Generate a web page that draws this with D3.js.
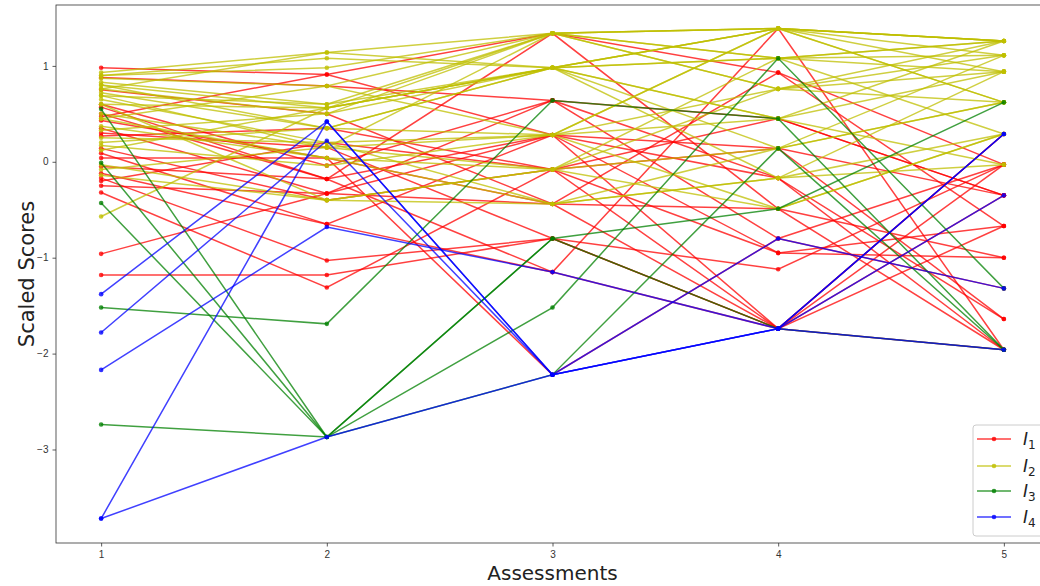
<!DOCTYPE html>
<html>
<head>
<meta charset="utf-8">
<script src="https://cdn.jsdelivr.net/npm/d3@7"></script>
<style>
  body { margin: 0; background: #fff; }
  svg { display: block; font-family: "DejaVu Sans", sans-serif; }
</style>
</head>
<body>
<svg id="chart" width="1040" height="586"></svg>
<script>
// assessments on the x axis
const assessments = [1, 2, 3, 4, 5];
const xTicks = [1, 2, 3, 4, 5];
const yTicks = [-3, -2, -1, 0, 1];

// I1 (red) trajectories
const groupI1 = [
  [0.98, 0.91, 1.34, 0.93, -0.67],
  [0.88, 0.79, 0.64, 0.45, -0.35],
  [0.57, -0.18, 1.34, -0.49, -1.0],
  [0.47, 0.91, 0.28, -1.74, 0.29],
  [0.43, 0.04, -2.22, -0.8, -0.03],
  [0.35, -0.33, 0.64, -0.17, -1.64],
  [0.27, 0.35, -0.08, 0.14, -0.35],
  [0.09, -0.65, -1.15, 1.39, -1.96],
  [0.04, 0.04, -0.44, -1.74, -0.03],
  [-0.05, -0.18, 0.28, -0.95, -0.67],
  [-0.17, -1.03, -0.8, -1.12, -0.03],
  [-0.2, 0.2, -0.08, -1.74, 0.29],
  [-0.25, -0.33, -0.44, -0.49, -1.96],
  [-0.32, -1.31, -0.08, 0.45, -0.35],
  [-0.96, -0.33, 0.28, -0.17, -1.96],
  [-1.18, -1.18, -0.8, -1.74, -0.35],
  [0.75, 0.5, -0.44, 0.93, -0.03],
  [0.6, -0.04, 0.64, -0.8, -1.32],
  [0.3, 0.15, -0.8, -1.74, -0.67],
  [0.14, -0.4, -0.08, -0.95, -1.0],
  [-0.12, -0.65, 0.28, 0.14, -1.64],
  [0.5, -0.18, -1.15, -1.74, -1.96]
];

// I2 (yellow) trajectories
const groupI2 = [
  [0.93, 1.14, 1.34, 1.39, 1.26],
  [0.9, 1.08, 0.98, 1.39, 1.26],
  [0.87, 0.79, 1.34, 1.08, 1.26],
  [0.83, 0.6, 1.34, 1.39, 0.94],
  [0.8, 0.56, 0.98, 1.08, 1.11],
  [0.76, 0.5, 1.34, 0.76, 1.26],
  [0.72, 0.35, 0.98, 1.39, 0.62],
  [0.69, 0.6, 0.98, 0.45, 0.94],
  [0.65, 0.2, 0.28, 1.39, 1.11],
  [0.6, 0.56, 0.98, 0.14, 0.62],
  [0.5, 0.15, 1.34, 1.08, 0.29],
  [0.45, 0.79, 0.28, 0.76, 0.94],
  [0.37, 0.04, -0.08, 1.08, 1.26],
  [0.33, 0.5, 0.98, -0.17, 0.29],
  [0.25, 0.2, -0.44, 0.14, 0.62],
  [0.2, 0.35, 0.98, 0.45, 1.26],
  [0.17, -0.04, 0.28, -0.49, 0.29],
  [0.12, 0.56, 1.34, 1.39, 0.62],
  [-0.03, -0.4, -0.44, -0.17, 0.94],
  [-0.08, 0.15, 0.28, 0.45, -0.03],
  [-0.14, -0.4, -0.08, -0.49, 0.29],
  [-0.57, 0.56, 0.98, 1.39, 1.26],
  [0.9, 0.98, 1.34, 0.76, 1.11],
  [0.76, 1.14, 0.98, 1.08, 0.94],
  [0.45, 0.04, -0.44, -0.17, -0.03],
  [0.69, 0.15, -0.08, 0.14, 1.11],
  [0.8, 0.35, 0.28, 1.39, 1.26],
  [0.6, -0.4, -0.08, 0.76, 0.62]
];

// I3 (green) trajectories
const groupI3 = [
  [0.55, -2.87, -0.8, -0.49, 0.62],
  [-0.01, -2.87, -1.52, 1.08, -1.32],
  [-0.43, -2.87, -2.22, 0.14, -1.96],
  [-1.52, -1.69, 0.64, 0.45, -1.96],
  [-2.74, -2.87, -0.8, -1.74, -1.96]
];

// I4 (blue) trajectories
const groupI4 = [
  [-3.72, -2.87, -2.22, -1.74, -1.96],
  [-3.72, 0.42, -2.22, -1.74, 0.29],
  [-1.38, 0.42, -2.22, -1.74, 0.29],
  [-1.78, 0.22, -2.22, -0.8, -1.32],
  [-2.17, -0.68, -1.15, -1.74, -0.35]
];

const groupNames = ["1", "2", "3", "4"];
const groupColors = ["#ff0000", "#bfbf00", "#008000", "#0000ff"];
const groups = [groupI1, groupI2, groupI3, groupI4];

const svg = d3.select("#chart");
const plotLeft = 56, plotRight = 1049, plotTop = 5, plotBottom = 543;

const x = d3.scaleLinear().domain([0.8, 5.2]).range([plotLeft, plotRight]);
const y = d3.scaleLinear().domain([-3.975, 1.635]).range([plotBottom, plotTop]);

svg.append("clipPath").attr("id", "plotclip")
  .append("rect").attr("x", plotLeft).attr("y", plotTop)
  .attr("width", plotRight - plotLeft).attr("height", plotBottom - plotTop);

const plot = svg.append("g").attr("clip-path", "url(#plotclip)");

const line = d3.line()
  .x((d, i) => x(assessments[i]))
  .y(d => y(d));

groups.forEach(function (series, g) {
  const layer = plot.append("g");
  series.forEach(function (vals) {
    layer.append("path")
      .attr("d", line(vals))
      .attr("fill", "none")
      .attr("stroke", groupColors[g])
      .attr("stroke-width", 1.5)
      .attr("stroke-opacity", 0.75);
    layer.selectAll(null)
      .data(vals)
      .enter()
      .append("circle")
      .attr("cx", (d, i) => x(assessments[i]))
      .attr("cy", d => y(d))
      .attr("r", 2.3)
      .attr("fill", groupColors[g])
      .attr("fill-opacity", 0.8);
  });
});

// axes
const xAxis = d3.axisBottom(x).tickValues(xTicks).tickSize(3.5).tickPadding(4)
  .tickFormat(d3.format("d"));
const yAxis = d3.axisLeft(y).tickValues(yTicks).tickSize(3.5).tickPadding(4)
  .tickFormat(d => d < 0 ? "\u2212" + Math.abs(d) : d);

const gx = svg.append("g").attr("transform", "translate(0," + plotBottom + ")").call(xAxis);
const gy = svg.append("g").attr("transform", "translate(" + plotLeft + ",0)").call(yAxis);
[gx, gy].forEach(function (g) {
  g.select(".domain").remove();
  g.selectAll("line").attr("stroke", "#333").attr("stroke-width", 0.8);
  g.selectAll("text").attr("fill", "#333").attr("font-size", 10);
});

// frame
svg.append("rect")
  .attr("x", plotLeft).attr("y", plotTop)
  .attr("width", plotRight - plotLeft).attr("height", plotBottom - plotTop)
  .attr("fill", "none").attr("stroke", "#333").attr("stroke-width", 0.8);

// axis titles
svg.append("text")
  .attr("x", (plotLeft + plotRight) / 2).attr("y", 580)
  .attr("text-anchor", "middle").attr("font-size", 20).attr("fill", "#222")
  .text("Assessments");
svg.append("text")
  .attr("transform", "translate(34," + (plotTop + plotBottom) / 2 + ") rotate(-90)")
  .attr("text-anchor", "middle").attr("font-size", 21).attr("fill", "#222")
  .text("Scaled Scores");

// legend
const legend = svg.append("g");
legend.append("rect")
  .attr("x", 973).attr("y", 425).attr("width", 90).attr("height", 111)
  .attr("rx", 3).attr("fill", "#fff").attr("fill-opacity", 0.8)
  .attr("stroke", "#ccc").attr("stroke-width", 1);

const rowY = [439, 466, 491, 517];
groupNames.forEach(function (name, i) {
  legend.append("line")
    .attr("x1", 977).attr("x2", 1011)
    .attr("y1", rowY[i]).attr("y2", rowY[i])
    .attr("stroke", groupColors[i]).attr("stroke-width", 1.5).attr("stroke-opacity", 0.75);
  legend.append("circle")
    .attr("cx", 994).attr("cy", rowY[i]).attr("r", 2.3)
    .attr("fill", groupColors[i]).attr("fill-opacity", 0.8);
  const t = legend.append("text")
    .attr("x", 1023).attr("y", rowY[i] + 6)
    .attr("font-size", 17).attr("fill", "#222");
  t.append("tspan").attr("font-style", "italic").text("I");
  t.append("tspan").attr("font-size", 12).attr("dy", 4).text(name);
});
</script>
</body>
</html>
